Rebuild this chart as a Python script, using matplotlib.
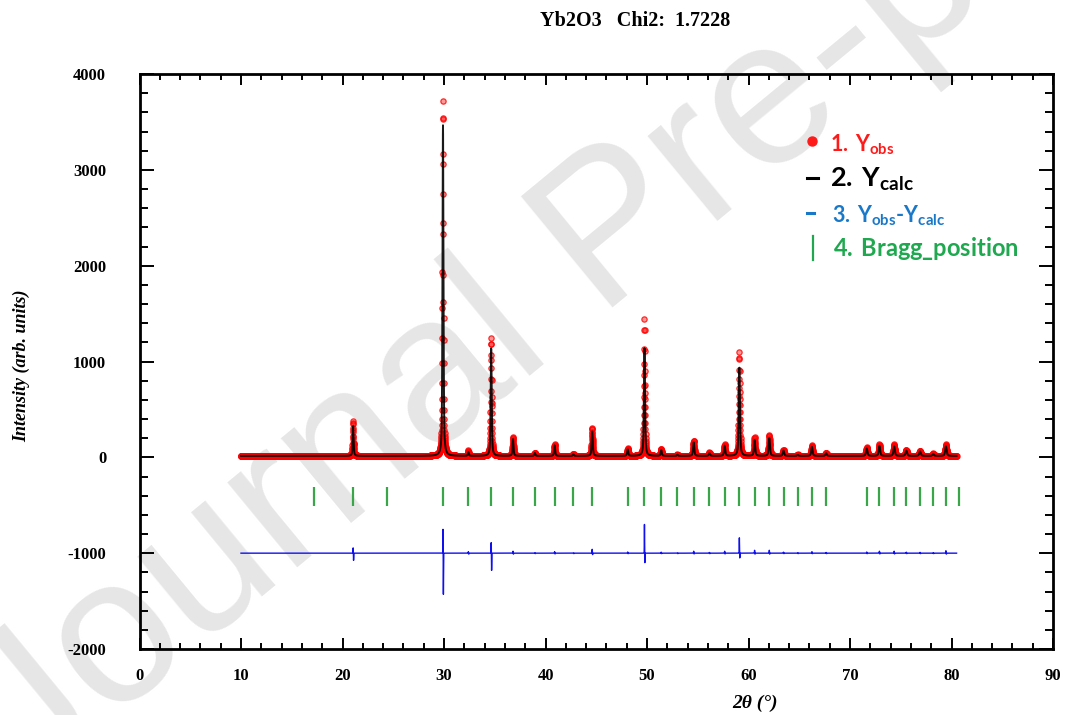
import numpy as np
import matplotlib
matplotlib.use("Agg")
import matplotlib.pyplot as plt
from matplotlib.ticker import MultipleLocator
from matplotlib.lines import Line2D

# ---------------- data ----------------
two_theta_start = 10.0
two_theta_end = 80.5
two_theta_step = 0.01
background = 15.0

peak_pos = [21.05, 29.90, 32.40, 34.65, 36.80, 38.95, 40.90, 42.75, 44.60, 48.10,
            49.75, 51.40, 53.00, 54.60, 56.15, 57.65, 59.10, 60.60, 62.05, 63.45,
            64.85, 66.25, 67.65, 71.65, 72.90, 74.35, 75.55, 76.90, 78.20, 79.45]
calc_height = [310, 3450, 40, 1120, 175, 30, 110, 17, 255, 68,
               1125, 60, 12, 140, 28, 105, 920, 165, 185, 55,
               10, 95, 28, 78, 105, 100, 55, 47, 20, 100]
peak_fwhm = [0.11, 0.11, 0.11, 0.12, 0.12, 0.12, 0.12, 0.12, 0.13, 0.13,
             0.13, 0.13, 0.13, 0.14, 0.14, 0.14, 0.14, 0.14, 0.15, 0.15,
             0.15, 0.15, 0.15, 0.16, 0.16, 0.16, 0.17, 0.17, 0.17, 0.17]
resid_pos = [55, 250, 15, 110, 20, 5, 15, 3, 40, 12,
             300, 10, 3, 20, 7, 20, 160, 30, 30, 10,
             5, 15, 7, 12, 20, 20, 10, 8, 5, 25]
resid_neg = [75, 430, 10, 180, 10, 5, 8, 5, 15, 5,
             100, 5, 5, 8, 5, 8, 50, 10, 10, 5,
             5, 5, 5, 5, 8, 8, 5, 5, 5, 10]

bragg_positions = [17.20, 21.05, 24.35, 29.90, 32.40, 34.65, 36.80, 38.95, 40.90, 42.75,
                   44.60, 48.10, 49.75, 51.40, 53.00, 54.60, 56.15, 57.65, 59.10, 60.60,
                   62.05, 63.45, 64.85, 66.25, 67.65, 71.65, 72.90, 74.35, 75.55, 76.90,
                   78.20, 79.45, 80.75]
bragg_y = (-510, -310)
diff_offset = -1000

title = "Yb2O3   Chi2:  1.7228"
xlabel = "2θ (°)"
ylabel = "Intensity (arb. units)"
watermark = "Journal Pre-proof"
legend_labels = [r"$\mathrm{1.\:Y_{obs}}$", r"$\mathrm{2.\:Y_{calc}}$",
                 r"$\mathrm{3.\:Y_{obs}\text{-}Y_{calc}}$", r"$\mathrm{4.\:Bragg\_position}$"]

# ---------------- profiles ----------------
x = np.arange(two_theta_start, two_theta_end + 1e-9, two_theta_step)
eta = 0.55

def pv(xx, c, h, fw):
    g = np.exp(-4 * np.log(2) * ((xx - c) / fw) ** 2)
    l = 1.0 / (1 + 4 * ((xx - c) / fw) ** 2)
    return h * (eta * l + (1 - eta) * g)

calc = np.full_like(x, background)
resid = np.zeros_like(x)
sig = 0.012
for c, h, fw, p, n in zip(peak_pos, calc_height, peak_fwhm, resid_pos, resid_neg):
    calc += pv(x, c, h, fw)
    resid += p * np.exp(-0.5 * ((x - c) / sig) ** 2)
    resid -= n * np.exp(-0.5 * ((x - c - 0.04) / sig) ** 2)
obs = calc + resid
diff = obs - calc

# ---------------- figure ----------------
plt.rcParams["mathtext.fontset"] = "custom"
plt.rcParams["mathtext.rm"] = "Lato:bold"
plt.rcParams["mathtext.it"] = "Lato:bold"
plt.rcParams["mathtext.bf"] = "Lato:bold"
plt.rcParams["axes.unicode_minus"] = False

W, H = 1065, 715
fig = plt.figure(figsize=(W / 100, H / 100), dpi=100)
fx = lambda px: px / W
fy = lambda py: 1 - py / H

# watermark
fig.text(fx(28), fy(790), watermark, rotation=39.5, rotation_mode="anchor",
         ha="left", va="baseline", fontsize=150, color="#e6e6e6",
         family="Liberation Sans", zorder=-5)

ax = fig.add_axes([fx(139.5), fy(649), (1053 - 139.5) / W, (649 - 74) / H])
ax.patch.set_visible(False)

ax.plot(x, obs, linestyle="none", marker="o", ms=3.8, mew=0.9,
        mfc=(1, 0, 0, 0.4), mec=(1, 0, 0, 0.8), zorder=2)
ax.plot(x, calc, color="black", lw=1.4, alpha=0.9, zorder=3)
ax.plot(x, diff + diff_offset, color="#1010ee", lw=1.0, zorder=3)
ax.vlines(bragg_positions, bragg_y[0], bragg_y[1], color="#3aa64a", lw=1.6, zorder=3)

ax.set_xlim(0, 90)
ax.set_ylim(-2000, 4000)
ax.xaxis.set_major_locator(MultipleLocator(10))
ax.xaxis.set_minor_locator(MultipleLocator(2))
ax.yaxis.set_major_locator(MultipleLocator(1000))
ax.yaxis.set_minor_locator(MultipleLocator(200))
ax.tick_params(axis="both", which="both", direction="in", top=True, right=True,
               width=1.4, color="black")
ax.tick_params(axis="y", which="major", length=10, pad=24)
ax.tick_params(axis="y", which="minor", length=6)
ax.tick_params(axis="x", which="major", length=8, pad=14)
ax.tick_params(axis="x", which="minor", length=4)
for s in ax.spines.values():
    s.set_linewidth(2.0)
for lab in ax.get_xticklabels() + ax.get_yticklabels():
    lab.set_family("Liberation Serif")
    lab.set_fontweight("bold")
    lab.set_fontsize(12)

fig.text(fx(635), fy(21), title, ha="center", va="center", family="Liberation Serif",
         fontweight="bold", fontsize=14.5)
fig.text(fx(755), fy(703), xlabel, ha="center", va="center", family="Liberation Serif",
         fontweight="bold", fontstyle="italic", fontsize=14)
fig.text(fx(22), fy(366), ylabel, ha="center", va="center", rotation=90,
         family="Liberation Serif", fontweight="bold", fontstyle="italic", fontsize=13)

# legend (manual, as in the reference)
leg_colors = ["#ff1a1a", "black", "#1a78c8", "#1fa84f"]
leg_sizes = [15.5, 19.5, 15.5, 17]
leg_x = [830, 830, 832, 833]
leg_base = [151, 187, 222, 256]
for t, c, s, lx, ly in zip(legend_labels, leg_colors, leg_sizes, leg_x, leg_base):
    fig.text(fx(lx), fy(ly), t, color=c, fontsize=s, ha="left", va="baseline")
fig.add_artist(Line2D([fx(812)], [fy(141)], marker="o", ms=6.5, color="#ff1a1a",
                      linestyle="none"))
fig.add_artist(Line2D([fx(807), fx(818)], [fy(178), fy(178)], color="black", lw=2.2))
fig.add_artist(Line2D([fx(807), fx(814)], [fy(213), fy(213)], color="#1a78c8", lw=2.2))
fig.add_artist(Line2D([fx(813), fx(813)], [fy(236), fy(260)], color="#1fa84f", lw=1.6))

fig.savefig("out.png", dpi=100)
